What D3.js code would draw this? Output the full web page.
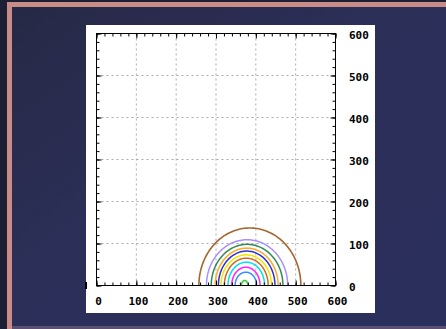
<!DOCTYPE html>
<html>
<head>
<meta charset="utf-8">
<script src="https://cdn.jsdelivr.net/npm/d3@7"></script>
<style>
  html, body { margin: 0; padding: 0; background: #1d1f35; }
  svg { display: block; }
  .lbl { font-family: "DejaVu Sans Mono", monospace; font-weight: bold; font-size: 11px; fill: #000; }
</style>
</head>
<body>
<svg id="chart" width="446" height="329"></svg>
<script>
// Axis tick values and labels
const xTicks = [0, 100, 200, 300, 400, 500, 600];
const yTicks = [0, 100, 200, 300, 400, 500, 600];
const minorStep = 20;

// Concentric half-ellipse contours: centre x, horizontal and vertical radii (data units), colour
const ringNames = ["r1", "r2", "r3", "r4", "r5", "r6", "r7", "r8", "r9", "r10", "r11"];
const ringCx    = [385, 378, 378, 377, 377, 376, 376, 376, 375, 375, 372];
const ringRx    = [128, 102, 90, 79, 71, 63.5, 55, 46, 35.6, 27, 8];
const ringRy    = [137, 109, 98, 89, 82, 73, 65, 55.5, 43.6, 31.7, 12];
const ringColor = ["#a5652e", "#a990ff", "#2e8b57", "#ffaa22", "#2f33cc", "#f2e600",
                   "#d2691e", "#00e0ee", "#ff22ff", "#2f8fff", "#33cc33"];

const svg = d3.select("#chart");
const W = 446, H = 329;

// Backdrop
const defs = svg.append("defs");
const bg = defs.append("linearGradient").attr("id", "bg")
  .attr("x1", "0").attr("y1", "0").attr("x2", "1").attr("y2", "1");
bg.append("stop").attr("offset", "0%").attr("stop-color", "#262945");
bg.append("stop").attr("offset", "45%").attr("stop-color", "#2c2f58");
bg.append("stop").attr("offset", "100%").attr("stop-color", "#2b2f5c");
svg.append("rect").attr("width", W).attr("height", H).attr("fill", "#1d1f35");
svg.append("rect").attr("x", 12).attr("y", 7).attr("width", W - 12).attr("height", H - 10)
  .attr("fill", "url(#bg)");

// Frame border
svg.append("rect").attr("x", 7).attr("y", 2).attr("width", 5).attr("height", H - 2).attr("fill", "#c98c87");
svg.append("rect").attr("x", 7).attr("y", 2).attr("width", W - 7).attr("height", 5).attr("fill", "#c98c87");
svg.append("rect").attr("x", 12).attr("y", 326).attr("width", W - 12).attr("height", 3).attr("fill", "#5b4f72");

// White panel
svg.append("rect").attr("x", 86).attr("y", 25).attr("width", 289).attr("height", 288).attr("fill", "#fff");
svg.append("rect").attr("x", 85).attr("y", 282).attr("width", 2).attr("height", 7).attr("fill", "#000");

const x = d3.scaleLinear().domain([0, 600]).range([96.5, 335.5]);
const y = d3.scaleLinear().domain([0, 600]).range([285.5, 33.5]);

// Dotted grid
const grid = svg.append("g").attr("stroke", "#aaa").attr("stroke-dasharray", "2,3").attr("stroke-width", 1);
grid.selectAll("line.v").data(xTicks.slice(1, -1)).join("line").attr("class", "v")
  .attr("x1", d => x(d)).attr("x2", d => x(d)).attr("y1", y(600)).attr("y2", y(0));
grid.selectAll("line.h").data(yTicks.slice(1, -1)).join("line").attr("class", "h")
  .attr("y1", d => y(d)).attr("y2", d => y(d)).attr("x1", x(0)).attr("x2", x(600));

// Contours
const angles = d3.range(0, 181, 2).map(a => a * Math.PI / 180);
const rings = ringNames.map((n, i) => ({ cx: ringCx[i], rx: ringRx[i], ry: ringRy[i], color: ringColor[i] }));
const line = d3.line();
svg.append("g").selectAll("path").data(rings).join("path")
  .attr("fill", "none")
  .attr("stroke", d => d.color)
  .attr("stroke-width", (d, i) => i === 0 ? 1.6 : 1.5)
  .attr("d", d => line(angles.map(t => [x(d.cx + d.rx * Math.cos(t)), y(d.ry * Math.sin(t))])));

// Axes: inward major and minor ticks on all four sides
const minor = d3.range(0, 601, minorStep);
function ticksOn(axisFn, scale, transform, vals, size) {
  const g = svg.append("g").attr("transform", transform)
    .call(axisFn(scale).tickValues(vals).tickSizeInner(-size).tickSizeOuter(0).tickFormat(""));
  g.select(".domain").remove();
  g.selectAll("line").attr("stroke", "#000");
  return g;
}
ticksOn(d3.axisBottom, x, `translate(0,${y(0)})`, minor, 3);
ticksOn(d3.axisBottom, x, `translate(0,${y(0)})`, xTicks, 5);
ticksOn(d3.axisTop, x, `translate(0,${y(600)})`, minor, 3);
ticksOn(d3.axisTop, x, `translate(0,${y(600)})`, xTicks, 5);
ticksOn(d3.axisLeft, y, `translate(${x(0)},0)`, minor, 3);
ticksOn(d3.axisLeft, y, `translate(${x(0)},0)`, yTicks, 5);
ticksOn(d3.axisRight, y, `translate(${x(600)},0)`, minor, 3);
ticksOn(d3.axisRight, y, `translate(${x(600)},0)`, yTicks, 5);

// Plot frame
svg.append("rect").attr("x", x(0)).attr("y", y(600))
  .attr("width", x(600) - x(0)).attr("height", y(0) - y(600))
  .attr("fill", "none").attr("stroke", "#000").attr("stroke-width", 1);

// Tick labels
svg.append("g").selectAll("text").data(xTicks).join("text").attr("class", "lbl")
  .attr("x", d => x(d) + 2).attr("y", 305).attr("text-anchor", "middle").text(d => d);
svg.append("g").selectAll("text").data(yTicks).join("text").attr("class", "lbl")
  .attr("x", 349).attr("y", d => y(d) + 5).attr("text-anchor", "start").text(d => d);
</script>
</body>
</html>
